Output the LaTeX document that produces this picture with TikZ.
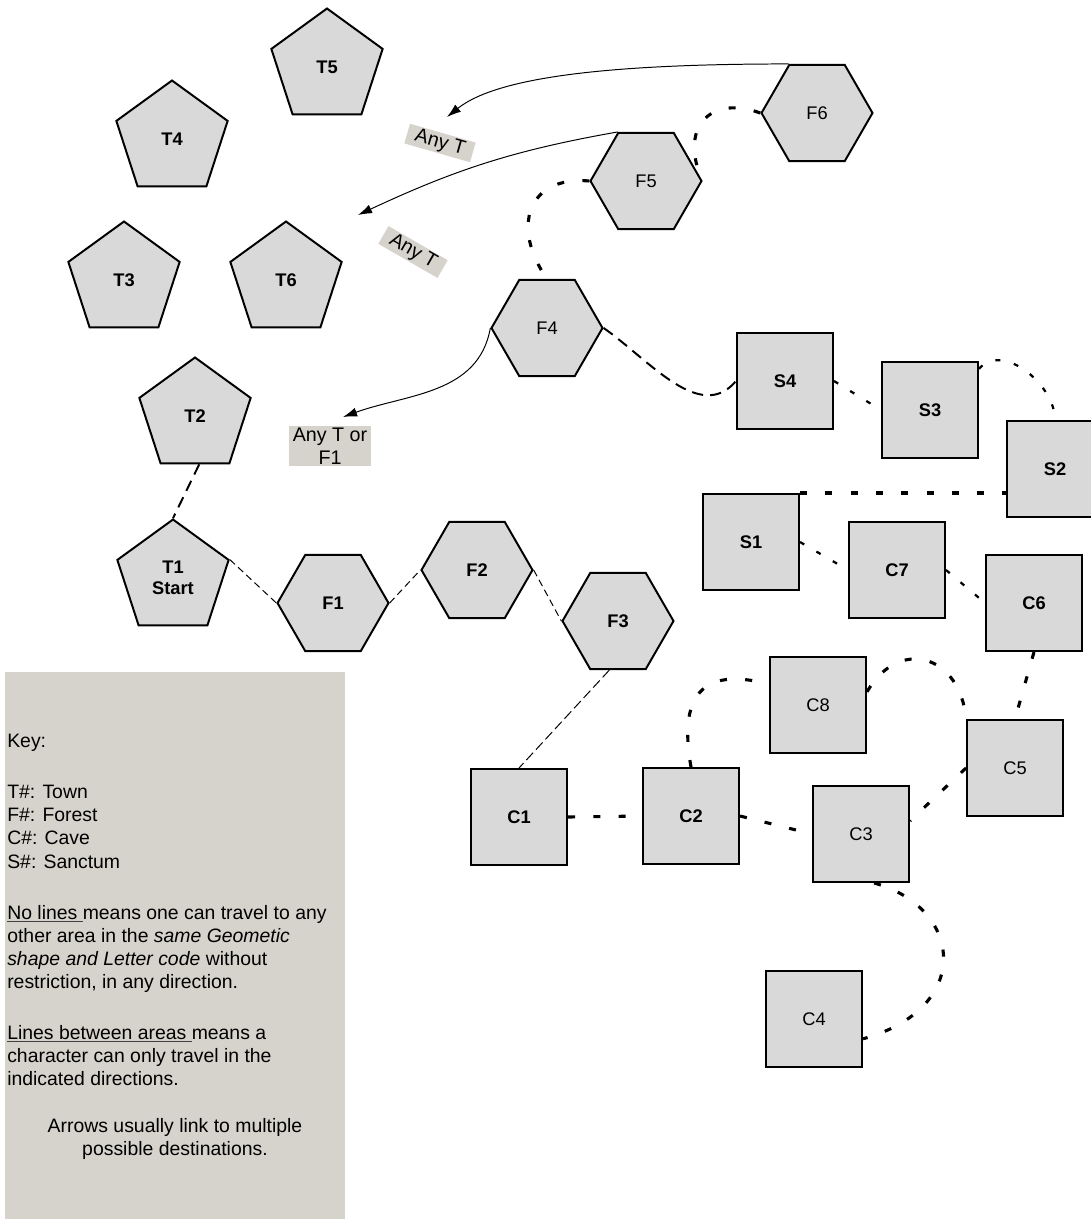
\documentclass[tikz,border=0pt]{standalone}
\usepackage{fontspec}
\setmainfont{Liberation Sans}
\usetikzlibrary{shapes.geometric,arrows.meta}
\definecolor{areafill}{HTML}{D9D9D9}
\definecolor{keyfill}{HTML}{D5D3CB}
\newcommand{\keyunder}[1]{{\color{darkgray}\underline{\color{black}#1}}}

\begin{document}
\begin{tikzpicture}[x=.025cm, y=.025cm,
  town/.style={regular polygon, regular polygon sides=5, minimum size=2.925cm, inner sep=0pt, draw, line width=1.4pt, fill=areafill, font=\bfseries\fontsize{13}{15}\selectfont},
  forest/.style={regular polygon, regular polygon sides=6, minimum size=2.775cm, inner sep=0pt, draw, line width=1.4pt, fill=areafill, font=\bfseries\fontsize{13}{15}\selectfont},
  room/.style={rectangle, minimum size=2.4cm, inner sep=0pt, draw, line width=1.4pt, fill=areafill, font=\bfseries\fontsize{13}{15}\selectfont},
  plainlabel/.style={font=\fontsize{13}{15}\selectfont},
  tag/.style={fill=keyfill, font=\fontsize{14}{16.4}\selectfont, inner xsep=6pt, inner ysep=1pt},
  road/.style={dash pattern=on 5pt off 3pt, line width=.7pt},
  lane/.style={dash pattern=on 8pt off 5pt, line width=1.4pt},
  trail/.style={dash pattern=on 5pt off 13pt, line width=2.2pt},
  track/.style={dash pattern=on 3.5pt off 10pt, line width=1.6pt},
  jump/.style={-{Latex[length=10pt,width=6.5pt]}, line width=.7pt}]
\useasboundingbox (0,0) rectangle (1091,-1219);
%
             \node [fill=keyfill, minimum width=8.5cm, minimum height=13.7cm, anchor=north west, inner sep=0pt] at (5,-672) (key) {};
             \node [anchor=north west, align=left, inner sep=0pt, font=\fontsize{13.8}{16.4}\selectfont] at (7,-734) (keytext)
                   {Key:\\[20pt]
                    T\#: Town\\ F\#: Forest\\ C\#: Cave\\ S\#: Sanctum\\[20pt]
                    \keyunder{No lines }means one can travel to any\\
                    other area in the \textit{same Geometic}\\
                    \textit{shape and Letter code} without\\
                    restriction, in any direction.\\[20pt]
                    \keyunder{Lines between areas }means a\\
                    character can only travel in the\\
                    indicated directions.};
             \node [align=center, font=\fontsize{13.8}{16.4}\selectfont] at (175,-1139) (keynote)
                   {Arrows usually link to multiple\\ possible destinations.};
%
             \node [town] at (327,-67) (T5) {T5};
             \node [town] at (172,-139) (T4) {T4};
             \node [town] at (124,-280) (T3) {T3};
             \node [town] at (286,-280) (T6) {T6};
             \node [town] at (195,-416) (T2) {T2};
             \node [town, align=center] at (173,-578) (T1) {T1\\Start};
%
             \node [forest, plainlabel] at (817,-113) (F6) {F6};
             \node [forest, plainlabel] at (646,-181) (F5) {F5};
             \node [forest, plainlabel] at (547,-328) (F4) {F4};
             \node [forest] at (333,-603) (F1) {F1};
             \node [forest] at (477,-570) (F2) {F2};
             \node [forest] at (618,-621) (F3) {F3};
%
             \node [room] at (785,-381) (S4) {S4};
             \node [room] at (930,-410) (S3) {S3};
             \node [room] at (1055,-469) (S2) {S2};
             \node [room] at (751,-542) (S1) {S1};
             \node [room] at (897,-570) (C7) {C7};
             \node [room] at (1034,-603) (C6) {C6};
             \node [room, plainlabel] at (818,-705) (C8) {C8};
             \node [room, plainlabel] at (1015,-768) (C5) {C5};
             \node [room, plainlabel] at (861,-834) (C3) {C3};
             \node [room] at (691,-816) (C2) {C2};
             \node [room] at (519,-817) (C1) {C1};
             \node [room, plainlabel] at (814,-1019) (C4) {C4};
%
             \node [tag, rotate=-16] at (440,-143) (anyT6) {Any T};
             \node [tag, rotate=-30] at (413,-252) (anyT5) {Any T};
             \node [tag, align=center, inner xsep=3pt] at (330,-446) (anyF4) {Any T or\\F1};
             \coordinate (tipT6) at (447,-117);
             \coordinate (tipT5) at (358,-215);
             \coordinate (tipF4) at (343,-417);
%
\draw[jump] (F6.120) .. controls +(-180,0) and +(50,40) .. (tipT6);
\draw[jump] (F5.120) to[out=190,in=25] (tipT5);
\draw[jump] (F4.west) to[out=-100,in=20] (tipF4);
%
\draw[lane] (T2.-85) -- (T1.north);
\draw[road] (T1.18) -- (F1.west);
\draw[road] (F1.east) -- (F2.west);
\draw[road] (F2.east) -- (F3.west);
\draw[road, dash pattern=on 7pt off 3pt] (F3.-100) -- (C1.north);
%
\draw[trail] (F6.west) to[out=160,in=115,looseness=1.6] (F5.east);
\draw[trail] (F5.west) to[out=175,in=125,looseness=1.5] (F4.north);
\draw[lane] (F4.east) to[out=-35,in=-130] (S4.west);
\draw[track] (S4.east) -- (S3.west);
\draw[track] (S3.40) to[out=50,in=90] (S2.north);
\draw[trail] (S1.north east) -- (S1.north east -| S2.west);
\draw[track] (S1.east) -- (C7.west);
\draw[track] (C7.east) -- (C6.west);
\draw[trail] (C6.south) -- (C5.north);
\draw[trail] (C8.15) to[out=60,in=95,looseness=1.6] (C5.north west);
\draw[trail] (C5.west) -- (C3.15);
\draw[trail] (C2.north) to[out=100,in=165,looseness=1.6] (C8.157);
\draw[trail] (C1.east) -- (C2.west);
\draw[trail] (C2.east) -- (C3.west);
\draw[trail] (C3.-75) .. controls +(90,-25) and +(110,30) .. (C4.-22);
\end{tikzpicture}
\end{document}
